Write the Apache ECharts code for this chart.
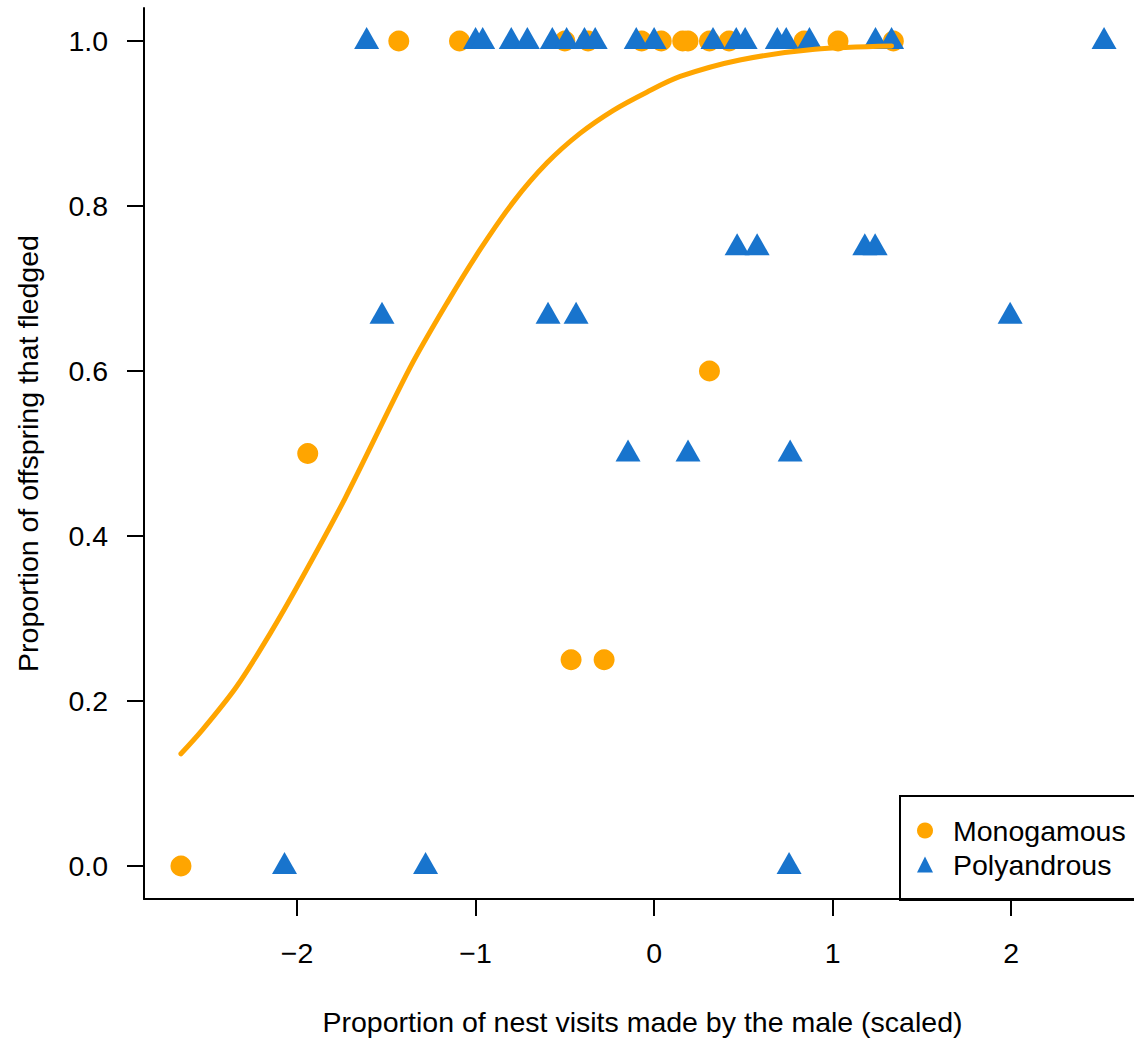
<!DOCTYPE html>
<html>
<head>
<meta charset="utf-8">
<script src="https://cdn.jsdelivr.net/npm/echarts@6/dist/echarts.min.js"></script>
<style>
html,body{margin:0;padding:0;background:#fff;overflow:hidden;width:1134px;height:1038px;}
#chart{width:1160px;height:1038px;}
</style>
</head>
<body>
<div id="chart"></div>
<script>
// Monogamous nests (orange circles)
const monoX = [-2.65, -1.94, -0.465, -0.28, 0.31,
  -1.43, -1.09, -0.50, -0.37, -0.07, 0.04, 0.16, 0.19, 0.31, 0.42, 0.84, 1.03, 1.34];
const monoY = [0, 0.5, 0.25, 0.25, 0.6,
  1, 1, 1, 1, 1, 1, 1, 1, 1, 1, 1, 1, 1];

// Polyandrous nests (blue triangles)
const polyX = [-2.07, -1.28, 0.756,
  -1.524, -0.594, -0.437, 1.994,
  0.465, 0.577, 1.18, 1.238,
  -0.146, 0.19, 0.762,
  -1.61, -1.00, -0.96, -0.80, -0.71, -0.57, -0.49, -0.39, -0.33, -0.10, 0.00,
  0.33, 0.46, 0.51, 0.69, 0.74, 0.87, 1.24, 1.33, 2.52];
const polyY = [0, 0, 0,
  0.667, 0.667, 0.667, 0.667,
  0.75, 0.75, 0.75, 0.75,
  0.5, 0.5, 0.5,
  1, 1, 1, 1, 1, 1, 1, 1, 1, 1, 1,
  1, 1, 1, 1, 1, 1, 1, 1, 1];

// Fitted curve
const curveX = [-2.65, -2.53, -2.34, -2.15, -1.97, -1.73, -1.367, -1.161, -0.975, -0.788, -0.601, -0.415, -0.228, -0.041, 0.146, 0.48, 0.9, 1.33];
const curveY = [0.136, 0.165, 0.217, 0.282, 0.350, 0.446, 0.604, 0.682, 0.747, 0.805, 0.852, 0.888, 0.916, 0.938, 0.957, 0.977, 0.990, 0.994];

const xTicks = [-2, -1, 0, 1, 2];
const yTicks = [0, 0.2, 0.4, 0.6, 0.8, 1.0];

const ORANGE = '#FFA500';
const BLUE = '#1874CD';
const FONT = 'Liberation Sans, Arial, Helvetica, sans-serif';
const FS = 28.5;

const zip = (a, b) => a.map((v, i) => [v, b[i]]);

const chart = echarts.init(document.getElementById('chart'), null, {renderer: 'svg'});
chart.setOption({
  animation: false,
  backgroundColor: '#fff',
  textStyle: {fontFamily: FONT, color: '#000'},
  grid: {left: 144, top: 8, width: 997, height: 891, containLabel: false, outerBoundsMode: 'none'},
  xAxis: {
    type: 'value', min: -2.857, max: 2.727,
    name: 'Proportion of nest visits made by the male (scaled)',
    nameLocation: 'middle', nameGap: 108,
    nameTextStyle: {fontSize: FS, color: '#000', fontFamily: FONT},
    axisLine: {show: true, onZero: false, lineStyle: {color: '#000', width: 2}},
    axisTick: {show: true, inside: false, length: 17, lineStyle: {color: '#000', width: 2}, customValues: xTicks},
    axisLabel: {customValues: xTicks, margin: 39, fontSize: FS, color: '#000', fontFamily: FONT,
      formatter: v => String(v).replace('-', '\u2212')},
    splitLine: {show: false}
  },
  yAxis: {
    type: 'value', min: -0.04, max: 1.04,
    name: 'Proportion of offspring that fledged',
    nameLocation: 'middle', nameGap: 102,
    nameTextStyle: {fontSize: FS, color: '#000', fontFamily: FONT},
    axisLine: {show: true, onZero: false, lineStyle: {color: '#000', width: 2}},
    axisTick: {show: true, inside: false, length: 17, lineStyle: {color: '#000', width: 2}, customValues: yTicks},
    axisLabel: {customValues: yTicks, margin: 36, fontSize: FS, color: '#000', fontFamily: FONT,
      formatter: v => v.toFixed(1)},
    splitLine: {show: false}
  },
  legend: {
    orient: 'vertical', left: 900, top: 796,
    padding: [20, 60, 21, 17],
    itemGap: 5, itemWidth: 16, itemHeight: 16,
    borderColor: '#000', borderWidth: 2, borderRadius: 0,
    textStyle: {fontSize: FS, color: '#000', fontFamily: FONT, lineHeight: 28, padding: [0, 0, 0, 15]},
    data: [
      {name: 'Monogamous', icon: 'circle', itemStyle: {color: ORANGE}},
      {name: 'Polyandrous', icon: 'triangle', itemStyle: {color: BLUE}}
    ]
  },
  series: [
    {
      name: 'Monogamous', type: 'scatter', symbol: 'circle', symbolSize: 21,
      itemStyle: {color: ORANGE, opacity: 1},
      data: zip(monoX, monoY), z: 2
    },
    {
      name: 'Polyandrous', type: 'scatter', symbol: 'triangle', symbolSize: [25, 22],
      symbolOffset: [0, -3],
      itemStyle: {color: BLUE, opacity: 1},
      data: zip(polyX, polyY), z: 3
    },
    {
      name: 'fit', type: 'line', smooth: 0.3, showSymbol: false, symbol: 'none',
      lineStyle: {color: ORANGE, width: 5, cap: 'round'},
      data: zip(curveX, curveY), z: 4, silent: true
    }
  ]
});
</script>
</body>
</html>
